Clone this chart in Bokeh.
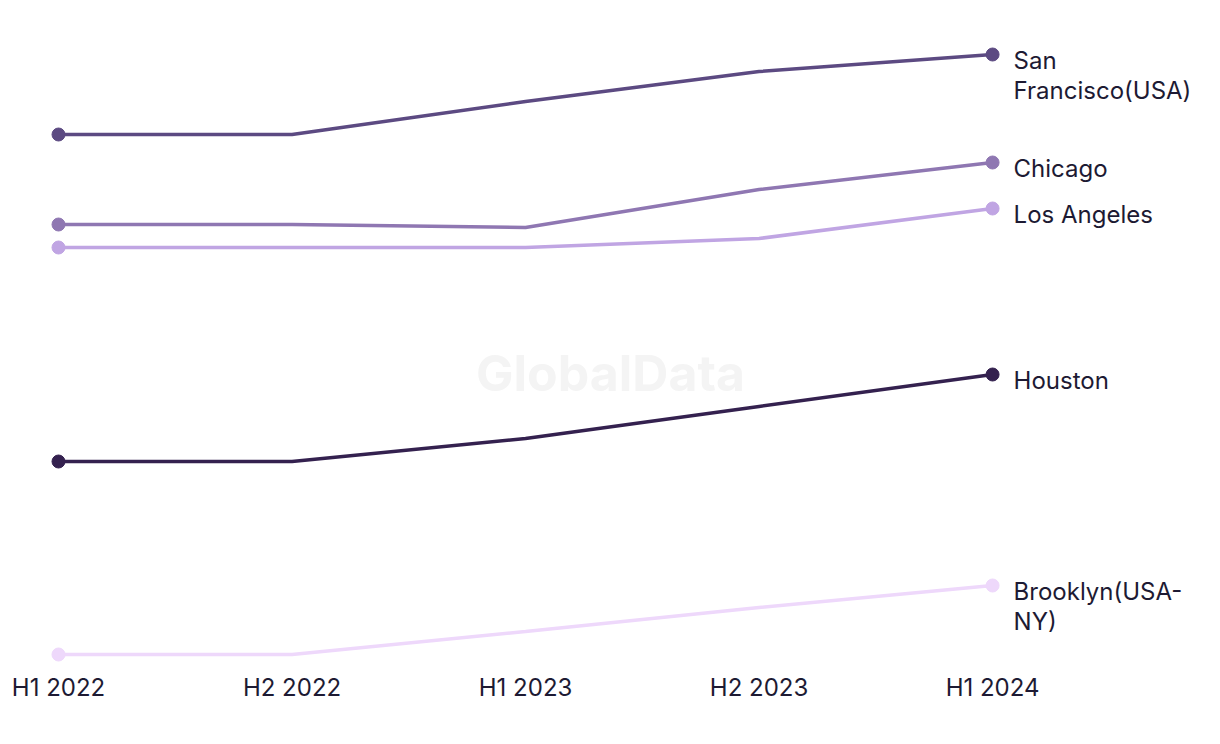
from bokeh.plotting import figure
from bokeh.models import Range1d, FixedTicker, Label
from bokeh.core.properties import value
from bokeh.embed import file_html
from bokeh.resources import INLINE

periods = ["H1 2022", "H2 2022", "H1 2023", "H2 2023", "H1 2024"]
cities = ["San\nFrancisco(USA)", "Chicago", "Los Angeles", "Houston", "Brooklyn(USA-\nNY)"]
san_francisco = [56.6, 56.6, 59.9, 62.9, 64.6]
chicago = [47.6, 47.6, 47.3, 51.1, 53.8]
los_angeles = [45.3, 45.3, 45.3, 46.2, 49.2]
houston = [23.9, 23.9, 26.2, 29.4, 32.6]
brooklyn = [4.6, 4.6, 6.9, 9.3, 11.5]
series = [san_francisco, chicago, los_angeles, houston, brooklyn]
colors = ["#5c4a82", "#8f77b2", "#c0a5e3", "#34214f", "#eed8fb"]

W, H = 1220, 744
p = figure(width=W, height=H, output_backend="svg", toolbar_location=None,
           x_range=Range1d(-0.2484, 4.976), y_range=Range1d(3.6, 70),
           min_border_left=0, min_border_right=0, min_border_top=0, min_border_bottom=80)
p.outline_line_color = None
p.xgrid.visible = False
p.ygrid.visible = False
p.yaxis.visible = False
p.background_fill_color = "white"
p.border_fill_color = "white"

xs = list(range(len(periods)))
p.xaxis.ticker = FixedTicker(ticks=xs)
p.xaxis.major_label_overrides = {i: s for i, s in enumerate(periods)}
p.xaxis.axis_line_color = None
p.xaxis.major_tick_line_color = None
p.xaxis.minor_tick_line_color = None
p.xaxis.major_label_standoff = 2
p.xaxis.major_label_text_font = "Inter"
p.xaxis.major_label_text_font_size = "24px"
p.xaxis.major_label_text_color = "#1d1a33"

wm = Label(x=610, y=H - 80 - 372, x_units="screen", y_units="screen", text="GlobalData",
           text_font="Inter", text_font_size="50px", text_font_style="bold",
           text_color="#f4f4f4", text_align="center", text_baseline="middle")
p.add_layout(wm)

for name, ys, c in zip(cities, series, colors):
    p.line(xs, ys, line_color=c, line_width=3.5)
    p.scatter([xs[0], xs[-1]], [ys[0], ys[-1]], size=13, fill_color=c, line_color=c)
    p.text(x=[xs[-1]], y=[ys[-1]], text=[name], x_offset=21, y_offset=-9,
           text_font=value("Inter"), text_font_size="24px", text_color="#1d1a33",
           text_baseline="top", text_align="left", text_line_height=1.06)

open("out.html", "w").write(file_html(p, INLINE))
